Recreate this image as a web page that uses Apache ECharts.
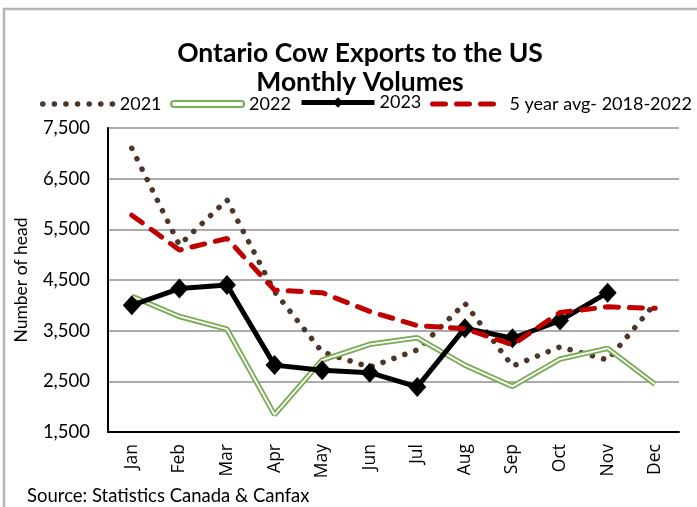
<!DOCTYPE html>
<html><head><meta charset="utf-8">
<script src="https://cdn.jsdelivr.net/npm/echarts@6/dist/echarts.min.js"></script>
<style>html,body{margin:0;padding:0;background:#fff}#c{width:697px;height:507px}</style>
</head><body><div id="c"></div>
<script>
const months = ['Jan','Feb','Mar','Apr','May','Jun','Jul','Aug','Sep','Oct','Nov','Dec'];
const v2021 = [7100, 5190, 6080, 4270, 3080, 2780, 3120, 4040, 2800, 3180, 2920, 4040];
const v2022 = [4180, 3780, 3530, 1840, 2920, 3230, 3360, 2820, 2400, 2940, 3150, 2440];
const v2023 = [4000, 4330, 4400, 2820, 2720, 2670, 2390, 3550, 3350, 3700, 4250];
const vAvg = [5780, 5090, 5320, 4300, 4250, 3880, 3600, 3540, 3220, 3860, 3970, 3940];
const yTicks = {min: 1500, max: 7500, step: 1000};

const FONT = 'Lato';
const chart = echarts.init(document.getElementById('c'), null, {renderer: 'canvas'});
const green = '#7aab55', brown = '#4e3629', red = '#c00000';
const legText = {fontFamily: FONT, fontSize: 18, color: '#000'};
const hideSym = {color: 'rgba(0,0,0,0)', borderColor: 'rgba(0,0,0,0)', borderWidth: 0};
const dotStyle = {color: brown, width: 5.5, type: [0.1, 11.5], cap: 'round'};
const dashStyle = {color: red, width: 5, type: [13, 11], cap: 'round'};
const blackStyle = {color: '#000', width: 5};
chart.setOption({
  animation: false,
  textStyle: {fontFamily: FONT, color: '#000'},
  title: {
    text: 'Ontario Cow Exports to the US\nMonthly Volumes',
    left: 355, top: 34, textAlign: 'center',
    textStyle: {fontFamily: FONT, fontWeight: 'bold', fontSize: 26.5, lineHeight: 29, color: '#000'}
  },
  graphic: [
    {type: 'rect', shape: {x: 4, y: 9, width: 900, height: 700}, style: {fill: 'none', stroke: '#b4b4b4', lineWidth: 2.5}, silent: true},
    {type: 'text', left: 27, top: 487, style: {text: 'Source: Statistics Canada & Canfax', font: '18.5px Lato', fill: '#000'}}
  ],
  legend: [
    {data: [{name: '2021', itemStyle: hideSym}], left: 40, top: 95, itemWidth: 70, itemHeight: 10, itemGap: 0, padding: 0,
      lineStyle: dotStyle, textStyle: Object.assign({padding: [0, 0, 0, 2]}, legText)},
    {data: [{name: '2022', icon: 'path://M3,0 L70,0 A3,3 0 0 1 70,6 L3,6 A3,3 0 0 1 3,0 Z',
      itemStyle: {color: '#fff', borderColor: green, borderWidth: 2.2}}], left: 170, top: 95, itemWidth: 73, itemHeight: 10, itemGap: 0, padding: 0,
      textStyle: legText},
    {data: [{name: '2023', itemStyle: {color: '#000'}}], left: 299, top: 93.5, itemWidth: 73, itemHeight: 13, itemGap: 0, padding: 0,
      lineStyle: blackStyle, textStyle: legText},
    {data: [{name: '5 year avg- 2018-2022', itemStyle: hideSym}], left: 430, top: 95, itemWidth: 61, itemHeight: 10, itemGap: 0, padding: 0,
      lineStyle: dashStyle, textStyle: Object.assign({padding: [0, 0, 0, 11]}, legText)}
  ],
  grid: {left: 108, right: 18, top: 128, bottom: 75},
  xAxis: {
    type: 'category', data: months, boundaryGap: true,
    axisLine: {lineStyle: {color: '#000', width: 2}},
    axisTick: {show: false},
    axisLabel: {rotate: 90, fontFamily: 'Open Sans', fontSize: 17.5, color: '#000', margin: 12}
  },
  yAxis: {
    type: 'value', min: yTicks.min, max: yTicks.max, interval: yTicks.step,
    name: 'Number of head', nameLocation: 'middle', nameGap: 78,
    nameTextStyle: {fontFamily: FONT, fontSize: 17.5, color: '#000'},
    axisLine: {show: true, lineStyle: {color: '#000', width: 2}},
    axisTick: {show: false},
    splitLine: {lineStyle: {color: '#ababab', width: 2}},
    axisLabel: {fontFamily: FONT, fontSize: 18.5, color: '#000', margin: 18,
      formatter: v => v.toLocaleString('en-US')}
  },
  series: [
    {name: '2021', type: 'line', data: v2021, symbol: 'none', z: 2,
      lineStyle: dotStyle, itemStyle: {color: brown}},
    {name: '2022', type: 'line', data: v2022, symbol: 'none', z: 3,
      lineStyle: {color: green, width: 5.5}, itemStyle: {color: green}},
    {name: '2022w', type: 'line', data: v2022, symbol: 'none', z: 4, silent: true,
      lineStyle: {color: '#fff', width: 1.8}},
    {name: '2023', type: 'line', data: v2023, symbol: 'diamond', symbolSize: [18, 20], z: 5,
      lineStyle: blackStyle, itemStyle: {color: '#000'}},
    {name: '5 year avg- 2018-2022', type: 'line', data: vAvg, symbol: 'none', z: 6,
      lineStyle: dashStyle, itemStyle: {color: red}}
  ]
});
</script></body></html>
